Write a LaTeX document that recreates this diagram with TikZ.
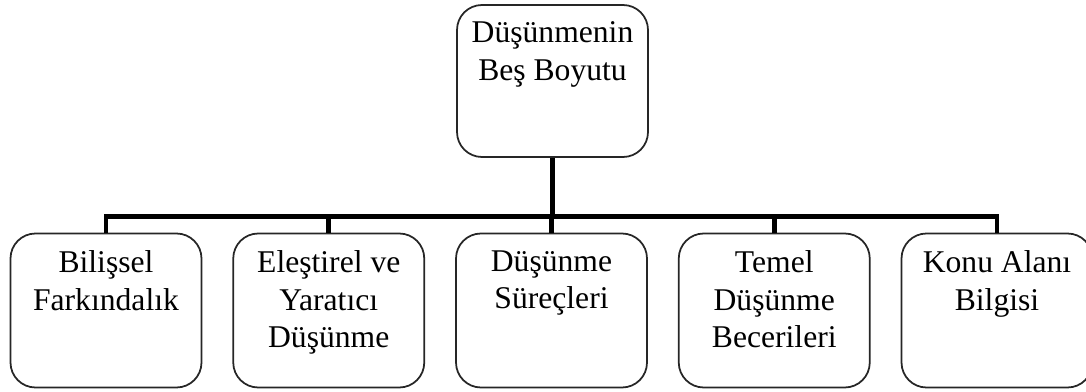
\documentclass[tikz,border=0pt]{standalone}
\usepackage{fontspec}
\setmainfont{Liberation Serif}
\usetikzlibrary{positioning}

\tikzset{
	boyut/.style={draw=black!85, line width=1pt, rounded corners=0.5cm,
		minimum width=3.82cm, minimum height=3.08cm, inner sep=0pt},
	yazi/.style={align=center, inner sep=0pt,
		font=\fontsize{18}{21.5}\selectfont},
	baglanti/.style={line width=2.8pt}
}

\begin{document}
\begin{tikzpicture}
		\useasboundingbox (0,0) rectangle (21.72,7.82);
		% ana kutu
		\node[boyut, minimum height=3.04cm] (kok) at (11.05,6.20) {};
		\node[yazi, below=0.35cm of kok.north] (kokyazi) {Düşünmenin\\Beş Boyutu};
		% alt kutular
		\node[boyut] (b1) at (2.12,1.61) {};
		\node[boyut] (b2) at (6.575,1.61) {};
		\node[boyut] (b3) at (11.03,1.61) {};
		\node[boyut] (b4) at (15.485,1.61) {};
		\node[boyut] (b5) at (19.94,1.61) {};
		\node[yazi, below=0.35cm of b1.north] (y1) {Bilişsel\\Farkındalık};
		\node[yazi, below=0.35cm of b2.north] (y2) {Eleştirel ve\\Yaratıcı\\Düşünme};
		\node[yazi, below=0.35cm of b3.north] (y3) {Düşünme\\Süreçleri};
		\node[yazi, below=0.35cm of b4.north] (y4) {Temel\\Düşünme\\Becerileri};
		\node[yazi, below=0.35cm of b5.north] (y5) {Konu Alanı\\Bilgisi};
		% baglantilar
		\coordinate (hat) at (0,3.49);
		\draw[baglanti] (kok.south) -- (kok.south |- hat);
		\draw[baglanti] (b1.north) -- (b1.north |- hat) -- (b5.north |- hat) -- (b5.north);
		\foreach \i in {2,3,4}
			\draw[baglanti] (b\i.north) -- (b\i.north |- hat);
	\end{tikzpicture}
\end{document}
